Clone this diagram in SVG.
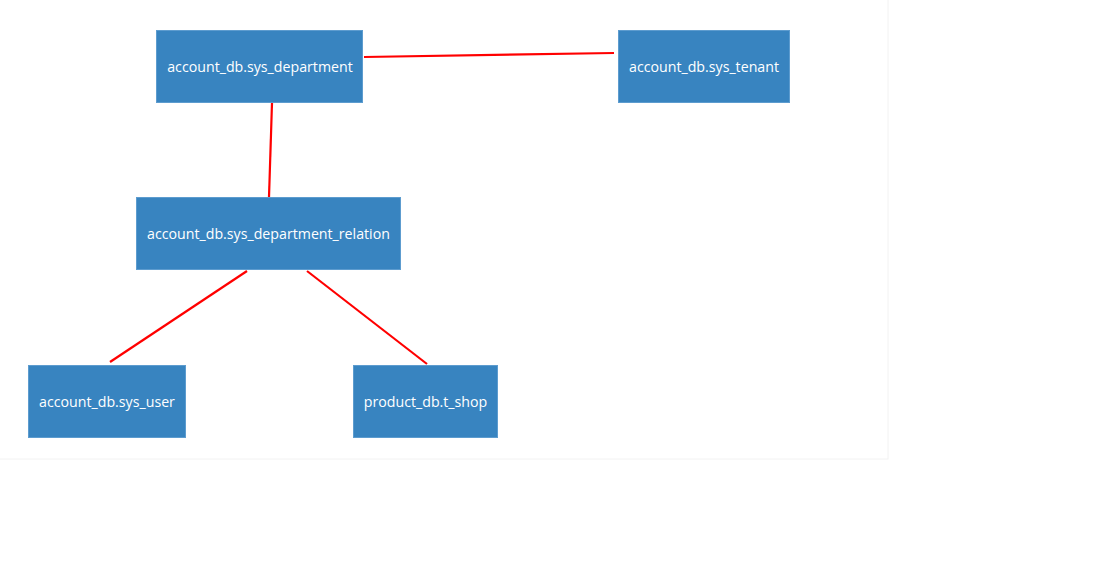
<svg xmlns="http://www.w3.org/2000/svg" width="1112" height="574" viewBox="0 0 1112 574">
<style>
.box{fill:#3884c0;stroke:#5d9ccf;stroke-width:1}
.lbl{fill:#ffffff;font-family:"Open Sans","Noto Sans","Liberation Sans",sans-serif;font-size:14.2px;text-anchor:middle;dominant-baseline:central}
.edge{stroke:#ff0000;stroke-width:2.2;fill:none}
</style>
<rect x="0" y="0" width="1112" height="574" fill="#ffffff"/>
<rect x="-1" y="-1" width="889" height="460" fill="none" stroke="#f2f2f2" stroke-width="1"/>
<g id="connectors">
<line class="edge" x1="364" y1="57" x2="614" y2="53"/>
<line class="edge" x1="272" y1="103" x2="269" y2="197"/>
<line class="edge" x1="247" y1="271" x2="110" y2="362"/>
<line class="edge" x1="307" y1="271" x2="427" y2="364"/>
</g>
<g id="sys_department">
<rect class="box" x="156.5" y="30.5" width="206" height="72"/>
<text class="lbl" x="260" y="66">account_db.sys_department</text>
</g>
<g id="sys_tenant">
<rect class="box" x="618.5" y="30.5" width="171" height="72"/>
<text class="lbl" x="704" y="66">account_db.sys_tenant</text>
</g>
<g id="sys_department_relation">
<rect class="box" x="136.5" y="197.5" width="264" height="72"/>
<text class="lbl" x="268.5" y="233">account_db.sys_department_relation</text>
</g>
<g id="sys_user">
<rect class="box" x="28.5" y="365.5" width="157" height="72"/>
<text class="lbl" x="107" y="401">account_db.sys_user</text>
</g>
<g id="t_shop">
<rect class="box" x="353.5" y="365.5" width="144" height="72"/>
<text class="lbl" x="425.5" y="401">product_db.t_shop</text>
</g>
</svg>
